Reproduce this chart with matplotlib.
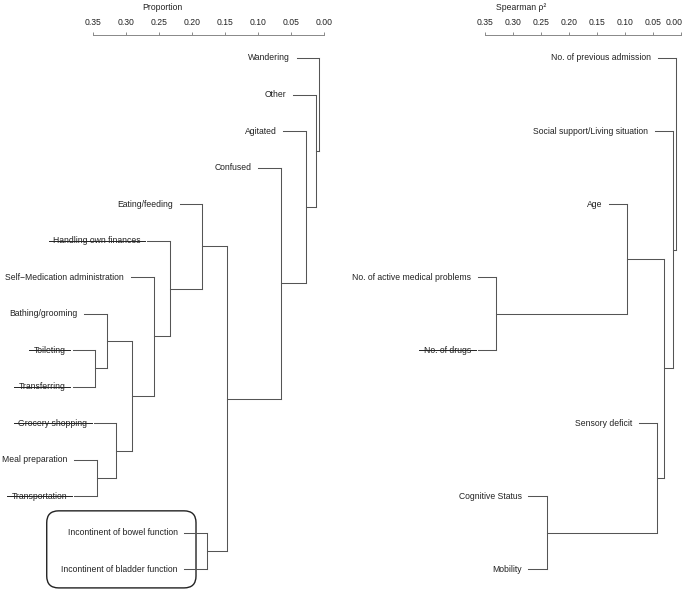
import numpy as np
import matplotlib
matplotlib.use('Agg')
import matplotlib.pyplot as plt
from matplotlib.patches import FancyBboxPatch
from matplotlib.lines import Line2D
from matplotlib.transforms import ScaledTranslation

plt.rcParams['font.family'] = ['Liberation Sans', 'DejaVu Sans']

# Left panel: functional status items (proportion)
adl_labels = ['Wandering', 'Other', 'Agitated', 'Confused', 'Eating/feeding',
              'Handling own finances', 'Self\u2212Medication administration',
              'Bathing/grooming', 'Toileting', 'Transferring', 'Grocery shopping',
              'Meal preparation', 'Transportation',
              'Incontinent of bowel function', 'Incontinent of bladder function']
adl_struck = ['Handling own finances', 'Toileting', 'Transferring',
              'Grocery shopping', 'Transportation']
# merges: child a, child b (leaf index or n + merge index), height
adl_merge_a = [8, 11, 7, 10, 17, 6, 5, 4, 13, 22, 3, 2, 1, 0]
adl_merge_b = [9, 12, 15, 16, 18, 19, 20, 21, 14, 23, 24, 25, 26, 27]
adl_heights = [0.346, 0.344, 0.329, 0.314, 0.291, 0.258, 0.233, 0.184,
               0.177, 0.147, 0.066, 0.028, 0.0125, 0.0076]

# Right panel: risk factors (Spearman rho^2)
risk_labels = ['No. of previous admission', 'Social support/Living situation',
               'Age', 'No. of active medical problems', 'No. of drugs',
               'Sensory deficit', 'Cognitive Status', 'Mobility']
risk_struck = ['No. of drugs']
risk_merge_a = [3, 6, 2, 5, 10, 1, 0]
risk_merge_b = [4, 7, 8, 9, 11, 12, 13]
risk_heights = [0.330, 0.240, 0.096, 0.043, 0.030, 0.014, 0.009]

tick_vals = np.arange(0, 0.351, 0.05)

W, H = 685, 590
LINE_C = '#555555'
TEXT_C = '#222222'
FS = 6.2


def draw_dendro(ax, labels, ma, mb, heights, hang, struck):
    n = len(labels)
    ypos = {i: float(i) for i in range(n)}
    hpos = {}
    parent_h = {}
    for k, (a, b, h) in enumerate(zip(ma, mb, heights)):
        c = n + k
        parent_h[a] = h
        parent_h[b] = h
        ypos[c] = (ypos[a] + ypos[b]) / 2
        hpos[c] = h
    for i in range(n):
        hpos[i] = parent_h[i] + hang

    for a, b, h in zip(ma, mb, heights):
        ax.plot([h, h], [ypos[a], ypos[b]], color=LINE_C, lw=0.75,
                solid_capstyle='projecting', clip_on=False)
        for ch in (a, b):
            ax.plot([hpos[ch], h], [ypos[ch], ypos[ch]], color=LINE_C, lw=0.75,
                    solid_capstyle='projecting', clip_on=False)

    texts = []
    for i, lab in enumerate(labels):
        t = ax.annotate(lab, xy=(hpos[i], i), xytext=(-4.8, 0),
                        textcoords='offset points', ha='right', va='center',
                        fontsize=FS, color=TEXT_C)
        if lab in struck:
            texts.append(t)
    return texts


def setup_axis(ax, title, title_px):
    ax.xaxis.tick_top()
    for s in ['left', 'right', 'bottom']:
        ax.spines[s].set_visible(False)
    ax.spines['top'].set_bounds(0, 0.35)
    ax.spines['top'].set_color('#888888')
    ax.spines['top'].set_linewidth(0.7)
    ax.set_xticks(tick_vals)
    ax.set_xticklabels(['%.2f' % v for v in tick_vals])
    ax.set_yticks([])
    ax.tick_params(axis='x', direction='out', length=2.4, width=0.6,
                   color='#777777', pad=3.6, labelsize=FS, labelcolor=TEXT_C)
    ax.patch.set_visible(False)
    ax.text(0.5, title_px, title, transform=ax.transAxes, ha='center',
            va='center', fontsize=FS, color=TEXT_C)


fig = plt.figure(figsize=(W / 100, H / 100), dpi=100)

top_px, bot_px = 35, 588
ax_h = bot_px - top_px
title_y = 1 + (top_px - 7) / ax_h

# left axes: 0.00 at x=324.3 px, 662 px per unit
left_scale = 662.0
ax1 = fig.add_axes([0, (H - bot_px) / H, 324.3 / W, ax_h / H])
ax1.set_xlim(324.3 / left_scale, 0)
sp1 = 36.52
ax1.set_ylim((bot_px - 58) / sp1, -(58 - top_px) / sp1)
struck1 = draw_dendro(ax1, adl_labels, adl_merge_a, adl_merge_b, adl_heights,
                      0.0343, adl_struck)
setup_axis(ax1, 'Proportion', title_y)

box = FancyBboxPatch((0.1938, 12.40), 0.4193 - 0.1938, 14.51 - 12.40,
                     boxstyle='round,pad=0,rounding_size=0.018',
                     mutation_aspect=left_scale / sp1,
                     fill=False, ec='#222222', lw=1.0, clip_on=False,
                     transform=ax1.transData)
ax1.add_patch(box)

# right axes: 0.00 at x=681 px, 560 px per unit
right_scale = 560.0
r_left = 361
ax2 = fig.add_axes([r_left / W, (H - bot_px) / H, (681 - r_left) / W, ax_h / H])
ax2.set_xlim((681 - r_left) / right_scale, 0)
sp2 = 73.04
ax2.set_ylim((bot_px - 58) / sp2, -(58 - top_px) / sp2)
struck2 = draw_dendro(ax2, risk_labels, risk_merge_a, risk_merge_b, risk_heights,
                      0.0327, risk_struck)
setup_axis(ax2, 'Spearman \u03c1\u00b2', title_y)

# keep the last tick label of the right axis inside the figure
last_lab = ax2.get_xticklabels()[0]
last_lab.set_horizontalalignment('right')
last_lab.set_transform(last_lab.get_transform() +
                       ScaledTranslation(2 / 100, 0, fig.dpi_scale_trans))

# strikethrough for dropped items
fig.canvas.draw()
r = fig.canvas.get_renderer()
inv = fig.transFigure.inverted()
for t in struck1 + struck2:
    bb = t.get_window_extent(r)
    yc = (bb.y0 + bb.y1) / 2
    (x0, y0), (x1, _) = inv.transform([(bb.x0 - 4.5, yc), (bb.x1 + 4.5, yc)])
    fig.add_artist(Line2D([x0, x1], [y0, y0], transform=fig.transFigure,
                          color=TEXT_C, lw=0.7))

fig.savefig('out.png', dpi=100)
